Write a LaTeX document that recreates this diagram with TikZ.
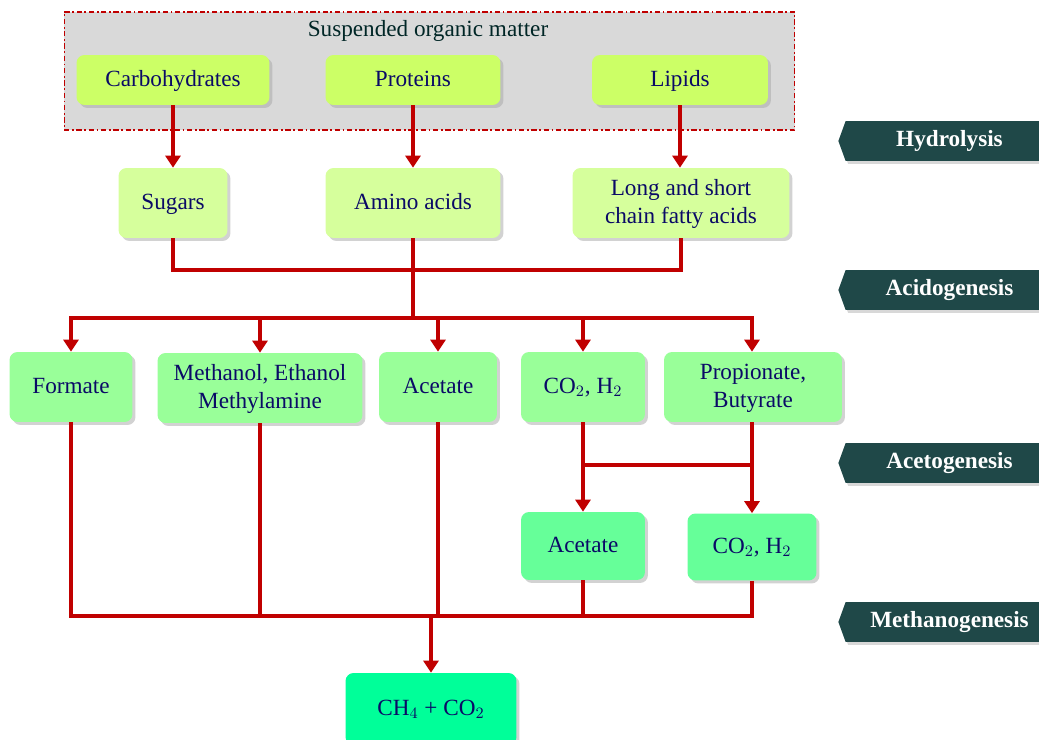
\documentclass[tikz,border=0pt]{standalone}
\usepackage{fontspec}
\setmainfont{Liberation Serif}
\usetikzlibrary{arrows.meta,shapes.symbols,shadows}

\definecolor{redline}{HTML}{C00000}
\definecolor{navytext}{HTML}{0A0A66}
\definecolor{limefill}{HTML}{CCFF66}
\definecolor{palefill}{HTML}{D6FF9C}
\definecolor{mintfill}{HTML}{99FF99}
\definecolor{greenfill}{HTML}{66FF99}
\definecolor{endfill}{HTML}{00FF99}
\definecolor{stagefill}{HTML}{1F4848}

\tikzset{
    box/.style={rounded corners=0.16cm, align=center, text=navytext,
        font=\fontsize{13.2}{16}\selectfont, text depth=0.05cm,
        drop shadow={shadow xshift=0.06cm, shadow yshift=-0.06cm, fill=black!35}},
    flow/.style={redline, line width=2.4pt},
    arr/.style={flow, -{Triangle[width=0.3cm,length=0.24cm]}},
    stage/.style={signal, signal to=west, signal pointer angle=140,
        fill=stagefill, text=white, font=\bfseries\fontsize{13.2}{16}\selectfont,
        minimum width=4.3cm, minimum height=0.8cm, anchor=west,
        drop shadow={shadow xshift=0.05cm, shadow yshift=-0.06cm, fill=black!30}}
}

\begin{document}
\begin{tikzpicture}[x=0.02cm, y=-0.02cm]
    \useasboundingbox (0,0) rectangle (1039,740);

    % suspended organic matter
    \node[fill=black!15, draw=redline, line width=0.6pt,
        dash pattern=on 3pt off 1.5pt on 1pt off 1.5pt,
        minimum width=14.62cm, minimum height=2.36cm] (susp) at (429.5,71) {};
    \node[text=black!70!teal, font=\fontsize{13.2}{16}\selectfont] (susptitle) at (428,31) {Suspended organic matter};

    \node[box, fill=limefill, minimum width=3.86cm, minimum height=1cm] (carb) at (173,80) {Carbohydrates};
    \node[box, fill=limefill, minimum width=3.5cm, minimum height=1cm] (prot) at (413,80) {Proteins};
    \node[box, fill=limefill, minimum width=3.52cm, minimum height=1cm] (lipid) at (680,80) {Lipids};

    \node[box, fill=palefill, minimum width=2.18cm, minimum height=1.4cm] (sugar) at (173,203) {Sugars};
    \node[box, fill=palefill, minimum width=3.5cm, minimum height=1.4cm] (amino) at (413,203) {Amino acids};
    \node[box, fill=palefill, minimum width=4.34cm, minimum height=1.4cm] (fatty) at (681,203) {Long and short\\chain fatty acids};

    \node[box, fill=mintfill, minimum width=2.46cm, minimum height=1.4cm] (form) at (71,387) {Formate};
    \node[box, fill=mintfill, minimum width=4.1cm, minimum height=1.4cm] (meth) at (260,388) {Methanol, Ethanol\\Methylamine};
    \node[box, fill=mintfill, minimum width=2.36cm, minimum height=1.4cm] (acet) at (438,387) {Acetate};
    \node[box, fill=mintfill, minimum width=2.48cm, minimum height=1.4cm] (gasa) at (583,387) {CO$_2$, H$_2$};
    \node[box, fill=mintfill, minimum width=3.56cm, minimum height=1.4cm] (prop) at (753,387) {Propionate,\\Butyrate};

    \node[box, fill=greenfill, minimum width=2.48cm, minimum height=1.36cm] (acetb) at (583,546) {Acetate};
    \node[box, fill=greenfill, minimum width=2.58cm, minimum height=1.34cm] (gasb) at (752,547) {CO$_2$, H$_2$};

    \node[box, fill=endfill, minimum width=3.42cm, minimum height=1.44cm] (biogas) at (431,709) {CH$_4$ + CO$_2$};

    % stages
    \node[stage] (hydro) at (838,141) {Hydrolysis};
    \node[stage] (acido) at (838,290) {Acidogenesis};
    \node[stage] (aceto) at (838,463) {Acetogenesis};
    \node[stage] (metha) at (838,622) {Methanogenesis};

    % hydrolysis
    \draw[arr] (carb) -- (sugar);
    \draw[arr] (prot) -- (amino);
    \draw[arr] (lipid) -- (fatty.north -| lipid);

    % acidogenesis
    \coordinate (ja) at (413,270);
    \coordinate (jb) at (413,318);
    \draw[flow] (sugar.south) |- (ja);
    \draw[flow] (fatty.south) |- (ja);
    \draw[flow] (amino.south) -- (jb);
    \draw[arr] (jb) -| (form);
    \draw[arr] (jb) -| (meth);
    \draw[arr] (jb) -| (acet);
    \draw[arr] (jb) -| (gasa);
    \draw[arr] (jb) -| (prop.north -| gasb);

    % acetogenesis
    \coordinate (jc) at (583,465);
    \coordinate (jd) at (752,465);
    \draw[arr] (gasa) -- (jc) -- (acetb);
    \draw[arr] (prop.south -| jd) -- (jd) -- (gasb);
    \draw[flow] (jc) -- (jd);

    % methanogenesis
    \coordinate (je) at (431,616);
    \draw[flow] (form.south) |- (je);
    \draw[flow] (meth.south) |- (je);
    \draw[flow] (acet.south) |- (je);
    \draw[flow] (acetb.south) |- (je);
    \draw[flow] (gasb.south) |- (je);
    \draw[arr] (je) -- (biogas);
\end{tikzpicture}
\end{document}
